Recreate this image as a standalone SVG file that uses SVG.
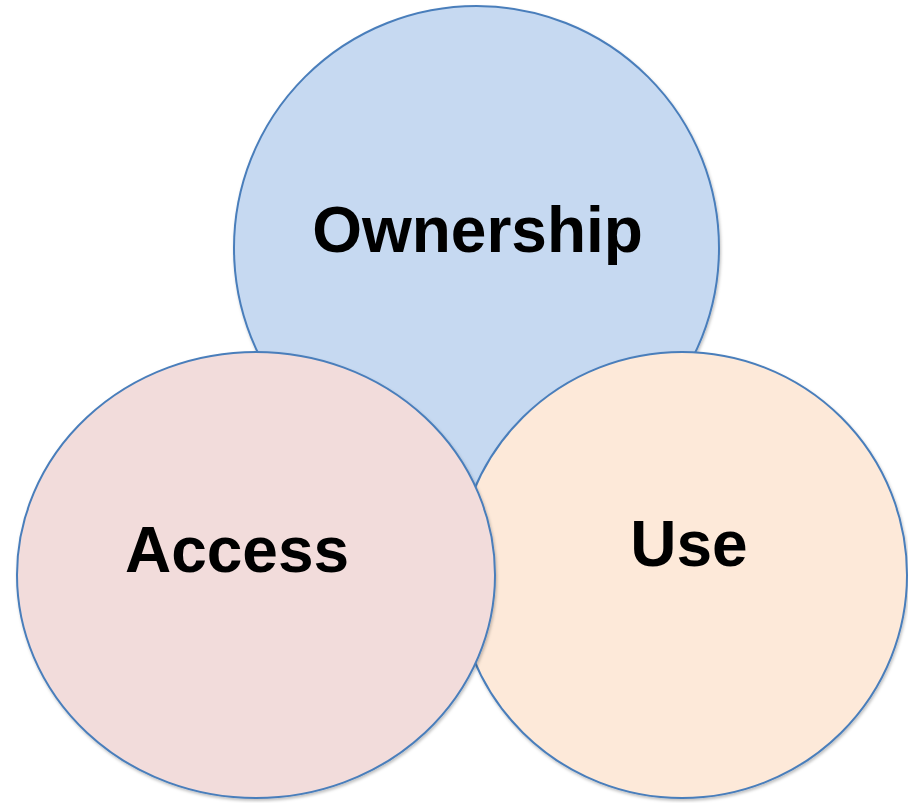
<svg xmlns="http://www.w3.org/2000/svg" width="908" height="803" viewBox="0 0 908 803">
<style>
.c{stroke:#4a7ebb;stroke-width:2;filter:url(#sh)}
.t{font-family:"Liberation Sans",Arial,sans-serif;font-weight:bold;font-size:64px;fill:#000;text-anchor:middle}
</style>
<defs>
<filter id="sh" x="-5%" y="-5%" width="110%" height="110%">
<feDropShadow dx="1" dy="2" stdDeviation="1.5" flood-color="#000" flood-opacity="0.25"/>
</filter>
</defs>
<rect width="908" height="803" fill="#fff"/>
<g id="ownership">
<ellipse class="c" cx="476.5" cy="248" rx="242.5" ry="242" fill="#c6d9f1"/>
<text class="t" x="477.5" y="252">Ownership</text>
</g>
<g id="use">
<ellipse class="c" cx="682" cy="575" rx="225" ry="223" fill="#fde9d9"/>
<text class="t" x="689" y="566">Use</text>
</g>
<g id="access">
<ellipse class="c" cx="256" cy="575" rx="239" ry="223" fill="#f2dcdb"/>
<text class="t" x="237" y="572">Access</text>
</g>
<g id="connectors"></g>
</svg>
